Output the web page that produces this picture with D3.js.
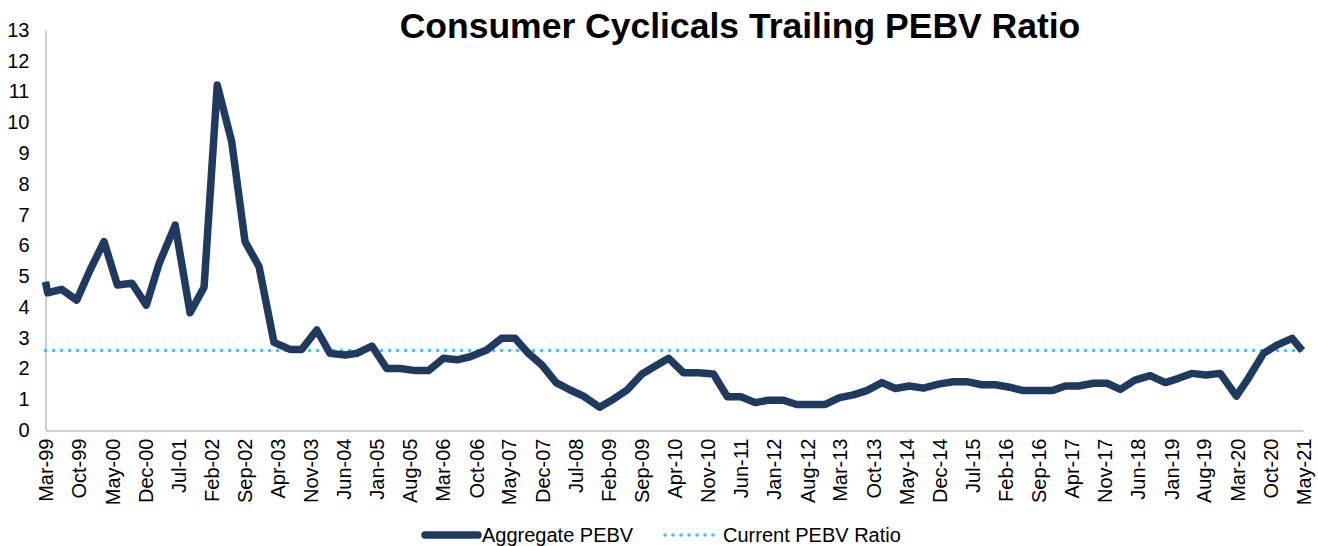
<!DOCTYPE html>
<html>
<head>
<meta charset="utf-8">
<script src="https://cdn.jsdelivr.net/npm/d3@7"></script>
<style>
  body { margin: 0; background: #fff; }
  svg { display: block; font-family: "Liberation Sans", Arial, sans-serif; }
</style>
</head>
<body>
<svg width="1318" height="546"></svg>
<script>
const dates = [
  "1999-03-01", "1999-03-15", "1999-06-13", "1999-09-18", "1999-12-13",
  "2000-03-12", "2000-06-06", "2000-09-08", "2000-12-09", "2001-03-01",
  "2001-06-13", "2001-09-17", "2001-12-16", "2002-03-11", "2002-06-12",
  "2002-09-06", "2002-12-05", "2003-03-11", "2003-06-22", "2003-09-06",
  "2003-12-12", "2004-03-06", "2004-06-11", "2004-08-26", "2004-12-01",
  "2005-03-06", "2005-06-01", "2005-09-06", "2005-11-30", "2006-03-06",
  "2006-06-01", "2006-08-25", "2006-12-10", "2007-03-16", "2007-06-10",
  "2007-09-05", "2007-12-01", "2008-03-01", "2008-05-30", "2008-08-24",
  "2008-12-06", "2009-03-05", "2009-06-01", "2009-09-05", "2009-11-30",
  "2010-02-24", "2010-05-30", "2010-09-04", "2010-12-09", "2011-03-08",
  "2011-06-03", "2011-09-04", "2011-11-29", "2012-02-29", "2012-05-28",
  "2012-08-27", "2012-11-28", "2013-02-28", "2013-05-28", "2013-08-22",
  "2013-11-28", "2014-02-22", "2014-05-23", "2014-08-22", "2014-11-27",
  "2015-03-02", "2015-05-28", "2015-09-02", "2015-11-27", "2016-02-28",
  "2016-05-27", "2016-09-02", "2016-11-27", "2017-02-21", "2017-05-16",
  "2017-08-21", "2017-11-16", "2018-02-10", "2018-05-15", "2018-08-21",
  "2018-11-26", "2019-02-20", "2019-05-15", "2019-08-16", "2019-11-15",
  "2020-02-27", "2020-05-14", "2020-08-20", "2020-11-14", "2021-02-20",
  "2021-04-26"
];
const pebv = [
  4.82, 4.46, 4.57, 4.22, 5.2,
  6.12, 4.71, 4.77, 4.06, 5.4,
  6.66, 3.81, 4.64, 11.21, 9.37,
  6.12, 5.31, 2.85, 2.62, 2.62,
  3.25, 2.49, 2.44, 2.49, 2.73,
  2.0, 2.0, 1.93, 1.93, 2.33,
  2.28, 2.38, 2.6, 2.98, 2.98,
  2.49, 2.11, 1.54, 1.3, 1.1,
  0.74, 1.0, 1.3, 1.82, 2.08,
  2.33, 1.86, 1.86, 1.82, 1.08,
  1.08, 0.89, 0.97, 0.97, 0.83,
  0.83, 0.83, 1.05, 1.14, 1.28,
  1.54, 1.35, 1.43, 1.36, 1.49,
  1.57, 1.57, 1.47, 1.47, 1.39,
  1.28, 1.28, 1.28, 1.43, 1.43,
  1.52, 1.52, 1.32, 1.62, 1.77,
  1.54, 1.68, 1.84, 1.79, 1.84,
  1.1, 1.68, 2.49, 2.76, 2.98,
  2.58
];
const currentRatio = 2.58;
const tickLabels = [
  "Mar-99", "Oct-99", "May-00", "Dec-00", "Jul-01", "Feb-02", "Sep-02", "Apr-03",
  "Nov-03", "Jun-04", "Jan-05", "Aug-05", "Mar-06", "Oct-06", "May-07", "Dec-07",
  "Jul-08", "Feb-09", "Sep-09", "Apr-10", "Nov-10", "Jun-11", "Jan-12", "Aug-12",
  "Mar-13", "Oct-13", "May-14", "Dec-14", "Jul-15", "Feb-16", "Sep-16", "Apr-17",
  "Nov-17", "Jun-18", "Jan-19", "Aug-19", "Mar-20", "Oct-20", "May-21"
];
const yTicks = d3.range(0, 14);

const svg = d3.select("svg");
const parseDay = d3.timeParse("%Y-%m-%d");
const parseTick = d3.timeParse("%b-%y");
const tickDates = tickLabels.map(parseTick);
const data = dates.map((d, i) => ({ date: parseDay(d), value: pebv[i] }));

const x = d3.scaleTime()
  .domain([tickDates[0], tickDates[tickDates.length - 1]])
  .range([45.5, 1303]);
const y = d3.scaleLinear()
  .domain([0, 13])
  .range([430, 30]);

const navy = "#1f3a5e";
const blue = "#41c3f2";
const axisGrey = "#bfbfbf";

// title
svg.append("text")
  .attr("x", 740)
  .attr("y", 38)
  .attr("text-anchor", "middle")
  .attr("font-size", 35.5)
  .attr("font-weight", "bold")
  .attr("fill", "#000")
  .text("Consumer Cyclicals Trailing PEBV Ratio");

// y axis
const yAxis = svg.append("g")
  .attr("transform", "translate(45.5,0)")
  .call(d3.axisLeft(y).tickValues(yTicks).tickSize(0).tickPadding(16).tickSizeOuter(0));
yAxis.select(".domain").attr("stroke", axisGrey).attr("stroke-width", 1.5);
yAxis.selectAll("text")
  .attr("font-size", 20)
  .attr("font-family", "Liberation Sans, Arial, sans-serif")
  .attr("fill", "#000");

// x axis
const xAxis = svg.append("g")
  .attr("transform", "translate(0,430.5)")
  .call(d3.axisBottom(x).tickValues(tickDates).tickFormat(d3.timeFormat("%b-%y")).tickSize(0).tickSizeOuter(0));
xAxis.select(".domain").attr("stroke", axisGrey).attr("stroke-width", 1.5);
xAxis.selectAll(".tick text")
  .attr("font-size", 20)
  .attr("font-family", "Liberation Sans, Arial, sans-serif")
  .attr("fill", "#000")
  .attr("text-anchor", "end")
  .attr("transform", "rotate(-90)")
  .attr("x", -8)
  .attr("y", 0)
  .attr("dy", "0.36em");

// current ratio line
svg.append("line")
  .attr("x1", x(tickDates[0]))
  .attr("x2", x(tickDates[tickDates.length - 1]))
  .attr("y1", y(currentRatio))
  .attr("y2", y(currentRatio))
  .attr("stroke", blue)
  .attr("stroke-width", 3.5)
  .attr("stroke-linecap", "round")
  .attr("stroke-dasharray", "0.1 7.9");

// aggregate line
const line = d3.line()
  .x(d => x(d.date))
  .y(d => y(d.value));

svg.append("path")
  .datum(data)
  .attr("d", line)
  .attr("fill", "none")
  .attr("stroke", navy)
  .attr("stroke-width", 7.5)
  .attr("stroke-linejoin", "round");

// legend
const legend = svg.append("g").attr("font-size", 20).attr("fill", "#000");
legend.append("line")
  .attr("x1", 425).attr("x2", 478)
  .attr("y1", 535).attr("y2", 535)
  .attr("stroke", navy)
  .attr("stroke-width", 7.5)
  .attr("stroke-linecap", "round");
legend.append("text")
  .attr("x", 482).attr("y", 542)
  .text("Aggregate PEBV");
legend.append("line")
  .attr("x1", 665).attr("x2", 718)
  .attr("y1", 535).attr("y2", 535)
  .attr("stroke", blue)
  .attr("stroke-width", 3.5)
  .attr("stroke-linecap", "round")
  .attr("stroke-dasharray", "0.1 7.9");
legend.append("text")
  .attr("x", 723).attr("y", 542)
  .text("Current PEBV Ratio");
</script>
</body>
</html>
